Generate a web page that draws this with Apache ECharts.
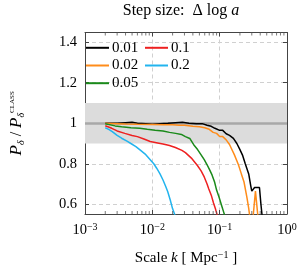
<!DOCTYPE html>
<html><head><meta charset="utf-8">
<script src="https://cdn.jsdelivr.net/npm/echarts@6/dist/echarts.min.js"></script>
<style>html,body{margin:0;padding:0;background:#fff}#c{width:304px;height:271px}</style>
</head><body><div id="c"></div>
<script>
const FONT = '"Liberation Serif", "DejaVu Serif", serif';
const seriesNames = ['0.01', '0.02', '0.05', '0.1', '0.2'];
const seriesColors = ['#000000', '#ff8c1a', '#1a8a1a', '#ee2020', '#22b4ee'];

const k001 = [0.002,0.003,0.004,0.005,0.006,0.008,0.01,0.013,0.017,0.022,0.028,0.035,0.045,0.055,0.065,0.075,0.085,0.1,0.11,0.125,0.14,0.16,0.18,0.2,0.22,0.24,0.27,0.29,0.30,0.33,0.39,0.41,0.44];
const v001 = [1.0,1.0,1.003,1.005,1.0,0.998,0.995,0.998,1.0,1.003,1.005,1.0,0.997,0.998,0.99,0.985,0.975,0.965,0.966,0.948,0.94,0.925,0.9,0.87,0.84,0.8,0.75,0.69,0.665,0.683,0.683,0.6,0.5];

const k002 = [0.002,0.003,0.004,0.006,0.01,0.015,0.02,0.025,0.03,0.04,0.05,0.06,0.07,0.08,0.09,0.1,0.11,0.125,0.14,0.165,0.19,0.21,0.23,0.255,0.27,0.29,0.31,0.34,0.38];
const v002 = [1.0,0.998,0.996,0.995,0.994,0.993,0.992,0.99,0.99,0.985,0.983,0.978,0.97,0.955,0.95,0.935,0.935,0.918,0.895,0.845,0.795,0.75,0.71,0.63,0.58,0.5,0.52,0.665,0.5];

const k005 = [0.002,0.0028,0.0035,0.0048,0.0065,0.0084,0.011,0.0144,0.018,0.0222,0.027,0.031,0.036,0.042,0.047,0.053,0.059,0.065,0.071,0.077,0.084,0.09,0.098,0.106,0.115,0.125];
const v005 = [0.998,0.987,0.983,0.978,0.975,0.97,0.965,0.962,0.955,0.95,0.945,0.934,0.925,0.89,0.87,0.844,0.82,0.795,0.77,0.745,0.71,0.67,0.635,0.598,0.56,0.52];

const k01 = [0.002,0.0025,0.003,0.0039,0.005,0.006,0.0075,0.0093,0.012,0.0144,0.018,0.022,0.0275,0.031,0.038,0.047,0.053,0.059,0.065,0.069,0.075,0.081,0.087,0.093,0.1];
const v01 = [0.988,0.975,0.962,0.95,0.94,0.934,0.922,0.91,0.903,0.898,0.89,0.88,0.866,0.855,0.828,0.79,0.765,0.735,0.7,0.675,0.645,0.606,0.575,0.54,0.5];

const k02 = [0.002,0.00225,0.00254,0.003,0.0035,0.0042,0.0048,0.0057,0.0067,0.008,0.0093,0.0105,0.0116,0.013,0.0144,0.0157,0.0169,0.0185,0.0199,0.0215,0.023];
const v02 = [0.978,0.97,0.959,0.94,0.926,0.912,0.9,0.885,0.866,0.845,0.82,0.8,0.778,0.75,0.72,0.69,0.663,0.62,0.58,0.55,0.52];

const kLists = [k001, k002, k005, k01, k02];
const vLists = [v001, v002, v005, v01, v02];

const xTicks = [0.001, 0.01, 0.1, 1];
const xTickLabels = ['−3', '−2', '−1', '0'];
const minorK = [2,3,4,5,6,7,8,9].flatMap(m => [m*0.001, m*0.01, m*0.1]);
const yMin = 0.552, yMax = 1.448;
const bandLow = 0.9, bandHigh = 1.1, refLine = 1;

const chart = echarts.init(document.getElementById('c'), null, {renderer: 'canvas'});
const supRich = {
  b: {fontFamily: FONT, fontSize: 14.5, color: '#000'},
  s: {fontFamily: FONT, fontSize: 10, color: '#000', verticalAlign: 'bottom', padding: [0, 0, 7, 0]}
};
const series = seriesNames.map((n, i) => ({
  name: n, type: 'line', xAxisIndex: 0, yAxisIndex: 0,
  data: kLists[i].map((k, j) => [k, vLists[i][j]]),
  symbol: 'none', z: 5,
  lineStyle: {color: seriesColors[i], width: 1.5},
  itemStyle: {color: seriesColors[i]}
}));
series.unshift({
  name: 'band', type: 'line', data: [], z: 1, silent: true,
  markArea: {silent: true, itemStyle: {color: '#dcdcdc'}, data: [[{yAxis: bandLow}, {yAxis: bandHigh}]]},
  markLine: {silent: true, symbol: 'none', label: {show: false},
    lineStyle: {color: '#a8a8a8', width: 2.5, type: 'solid'}, data: [{yAxis: refLine}]}
});
series.push({
  name: 'minor', type: 'custom', z: 6, silent: true,
  data: minorK.map(k => [k, yMin]),
  renderItem: function (params, api) {
    const p = api.coord([api.value(0), yMin]);
    const q = api.coord([api.value(0), yMax]);
    const st = {stroke: '#555', lineWidth: 0.8};
    return {type: 'group', children: [
      {type: 'line', shape: {x1: p[0], y1: p[1], x2: p[0], y2: p[1] - 3}, style: st},
      {type: 'line', shape: {x1: q[0], y1: q[1], x2: q[0], y2: q[1] + 3}, style: st}
    ]};
  },
  clip: false
});

const legendCommon = {
  orient: 'vertical', itemWidth: 23, itemHeight: 2, itemGap: 2.7, icon: 'rect', padding: 0,
  textStyle: {fontFamily: FONT, fontSize: 15, color: '#000', lineHeight: 14, padding: [0, 0, 0, -2]}
};
chart.setOption({
  animation: false,
  title: {text: 'Step size:  Δ log {i|a}', left: 181, textAlign: 'center', top: 3, padding: 0,
    textStyle: {fontFamily: FONT, fontSize: 16, fontWeight: 'normal', color: '#000',
      rich: {i: {fontFamily: FONT, fontStyle: 'italic', fontSize: 16, color: '#000'}}}},
  grid: {left: 74.7, right: 17, top: 32.5, bottom: 57, containLabel: false},
  legend: [
    Object.assign({}, legendCommon, {data: ['0.01', '0.02', '0.05'], left: 86, top: 40.3}),
    Object.assign({}, legendCommon, {data: ['0.1', '0.2'], left: 145, top: 40.3})
  ],
  xAxis: [{
    type: 'log', logBase: 10, min: 0.001, max: 1, position: 'bottom',
    axisLine: {show: true, lineStyle: {color: '#444', width: 1}},
    axisTick: {show: true, inside: true, length: 4, lineStyle: {color: '#444'}},
    splitLine: {show: true, lineStyle: {color: '#d0d0d0', type: [4, 3], width: 1}},
    minorTick: {show: false},
    axisLabel: {margin: 8, formatter: function (v) {
      const i = xTicks.findIndex(t => Math.abs(Math.log10(t) - Math.log10(v)) < 1e-6);
      return i < 0 ? '' : '{b|10}{s|' + xTickLabels[i] + '}';
    }, rich: supRich},
    name: 'Scale {i|k} [ Mpc{s|−1} ]', nameLocation: 'middle', nameGap: 36,
    nameTextStyle: {fontFamily: FONT, fontSize: 15, color: '#000',
      rich: {i: {fontFamily: FONT, fontStyle: 'italic', fontSize: 15, color: '#000'},
        s: {fontFamily: FONT, fontSize: 10, color: '#000', verticalAlign: 'bottom', padding: [0, 0, 7, 0]}}}
  }, {
    type: 'log', logBase: 10, min: 0.001, max: 1, position: 'top',
    axisLine: {show: true, lineStyle: {color: '#444', width: 1}},
    axisTick: {show: true, inside: true, length: 4, lineStyle: {color: '#444'}},
    splitLine: {show: false}, axisLabel: {show: false}
  }],
  yAxis: [{
    type: 'value', min: yMin, max: yMax, splitNumber: 5, position: 'left',
    axisLine: {show: true, lineStyle: {color: '#444', width: 1}},
    axisTick: {show: true, inside: true, length: 4, lineStyle: {color: '#444'}},
    splitLine: {show: true, lineStyle: {color: '#d0d0d0', type: [4, 3], width: 1}},
    axisLabel: {showMinLabel: false, showMaxLabel: false, margin: 8,
      fontFamily: FONT, fontSize: 14.5, color: '#000',
      formatter: v => (Math.abs(v - 1) < 1e-9 ? '1' : String(+v.toFixed(1)))},
    name: '{i|P}{sub|δ} / {i|P}{sub|δ}{sup|CLASS}', nameLocation: 'middle', nameGap: 59, nameRotate: 90,
    nameTextStyle: {fontFamily: FONT, fontSize: 16, color: '#000',
      rich: {i: {fontFamily: FONT, fontStyle: 'italic', fontSize: 17, color: '#000'},
        sub: {fontFamily: FONT, fontStyle: 'italic', fontSize: 10, color: '#000', verticalAlign: 'top', padding: [9, 0, 0, 0]},
        sup: {fontFamily: FONT, fontSize: 7, color: '#000', verticalAlign: 'bottom', padding: [0, 0, 10, 0]}}}
  }, {
    type: 'value', min: yMin, max: yMax, splitNumber: 5, position: 'right',
    axisLine: {show: true, lineStyle: {color: '#444', width: 1}},
    axisTick: {show: true, inside: true, length: 4, lineStyle: {color: '#444'}},
    splitLine: {show: false}, axisLabel: {show: false}
  }],
  series: series
});
</script></body></html>
